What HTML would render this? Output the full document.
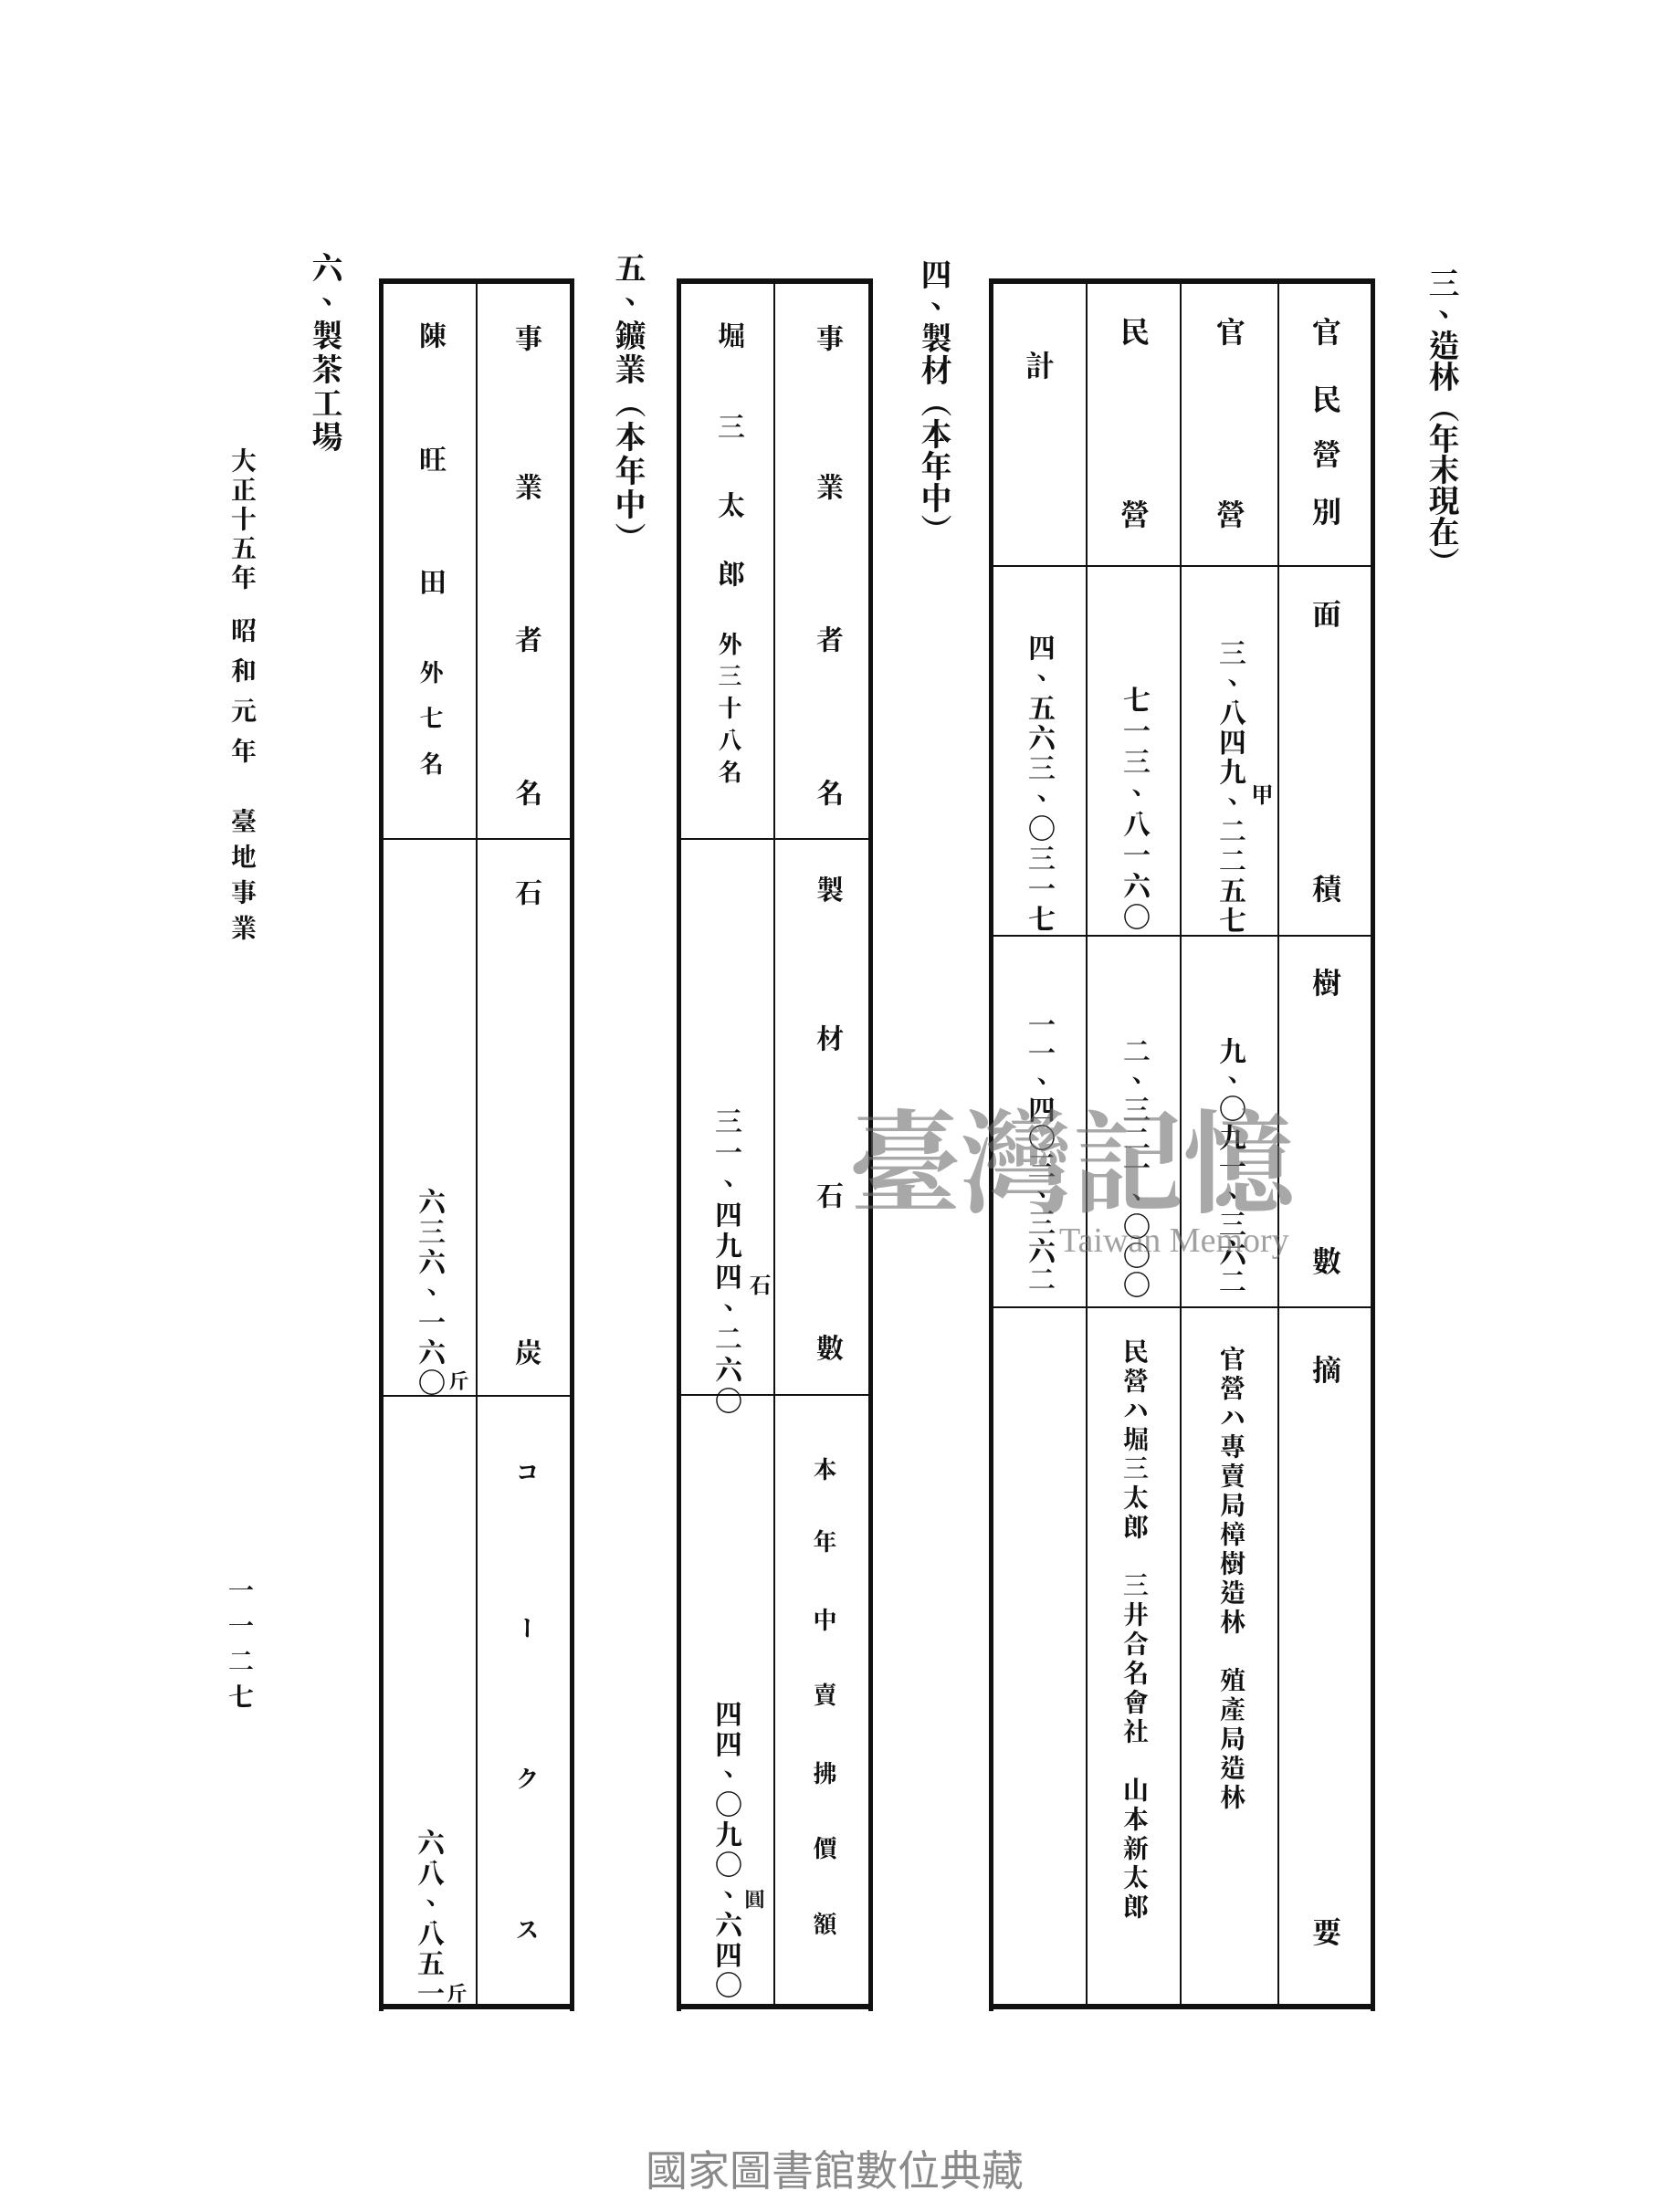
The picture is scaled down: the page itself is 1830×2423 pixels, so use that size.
<!DOCTYPE html>
<html><head><meta charset="utf-8"><style>
html,body{margin:0;padding:0;background:#fff}
#p{position:relative;width:1830px;height:2423px;overflow:hidden;background:#fff}
.v{position:absolute;writing-mode:vertical-rl;font-family:"Liberation Serif","Noto Serif CJK TC","Noto Serif CJK SC",serif;line-height:1;white-space:nowrap;color:#111;font-weight:bold}
.b{font-weight:bold}
svg{position:absolute;left:0;top:0}
</style></head><body><div id="p">
<svg width="1830" height="2423">
<g fill="#111">
<rect x="1083" y="305" width="5" height="1898"/>
<rect x="1501" y="305" width="5" height="1898"/>
<rect x="1083" y="305" width="423" height="6"/>
<rect x="1083" y="2195" width="423" height="6"/>
<rect x="1189" y="311" width="2" height="1886"/>
<rect x="1292" y="311" width="2" height="1886"/>
<rect x="1399" y="311" width="2" height="1886"/>
<rect x="1088" y="619" width="413" height="2"/>
<rect x="1088" y="1024" width="413" height="2"/>
<rect x="1088" y="1431" width="413" height="2"/>
<rect x="741" y="305" width="5" height="1898"/>
<rect x="951" y="305" width="5" height="1898"/>
<rect x="741" y="305" width="215" height="6"/>
<rect x="741" y="2195" width="215" height="6"/>
<rect x="847" y="311" width="2" height="1886"/>
<rect x="746" y="918" width="205" height="2"/>
<rect x="746" y="1527" width="205" height="2"/>
<rect x="415" y="305" width="5" height="1898"/>
<rect x="624" y="305" width="5" height="1898"/>
<rect x="415" y="305" width="214" height="6"/>
<rect x="415" y="2195" width="214" height="6"/>
<rect x="521" y="311" width="2" height="1886"/>
<rect x="420" y="918" width="204" height="2"/>
<rect x="420" y="1528" width="204" height="2"/>
</g>
</svg>

<div class="v b" style="left:1560px;top:293px;font-size:34px">三、造林（年末現在）</div>
<div class="v b" style="left:1004px;top:283px;font-size:34px;letter-spacing:1px">四、製材（本年中）</div>
<div class="v b" style="left:669px;top:276px;font-size:34px;letter-spacing:3px">五、鑛業（本年中）</div>
<div class="v b" style="left:337px;top:276px;font-size:34px;letter-spacing:3px">六、製茶工場</div>

<div class="v b" style="left:1435px;top:347px;font-size:32px">官</div>
<div class="v b" style="left:1435px;top:421px;font-size:32px">民</div>
<div class="v b" style="left:1435px;top:481px;font-size:32px">營</div>
<div class="v b" style="left:1435px;top:544px;font-size:32px">別</div>
<div class="v b" style="left:1435px;top:656px;font-size:32px">面</div>
<div class="v b" style="left:1435px;top:957px;font-size:32px">積</div>
<div class="v b" style="left:1435px;top:1060px;font-size:32px">樹</div>
<div class="v b" style="left:1435px;top:1365px;font-size:32px">數</div>
<div class="v b" style="left:1435px;top:1484px;font-size:32px">摘</div>
<div class="v b" style="left:1435px;top:2100px;font-size:32px">要</div>
<div class="v b" style="left:1330px;top:347px;font-size:32px">官</div>
<div class="v b" style="left:1330px;top:547px;font-size:32px">營</div>
<div class="v" style="left:1331px;top:700px;font-size:30px;letter-spacing:2.5px">三、八四九、二二五七</div>
<div class="v b" style="left:1367px;top:858px;font-size:24px">甲</div>
<div class="v" style="left:1331px;top:1136px;font-size:30px;letter-spacing:1.6px">九、〇九一、三六二</div>
<div class="v" style="left:1333px;top:1474px;font-size:28px;letter-spacing:4px">官營ハ專賣局樟樹造林　殖產局造林</div>
<div class="v b" style="left:1225px;top:347px;font-size:32px">民</div>
<div class="v b" style="left:1225px;top:547px;font-size:32px">營</div>
<div class="v" style="left:1226px;top:751px;font-size:30px;letter-spacing:4px">七一三、八一六〇</div>
<div class="v" style="left:1226px;top:1136px;font-size:30px;letter-spacing:2px">二、三二一、〇〇〇</div>
<div class="v" style="left:1227px;top:1466px;font-size:28px;letter-spacing:4px">民營ハ堀三太郎　三井合名會社　山本新太郎</div>
<div class="v b" style="left:1121px;top:384px;font-size:32px">計</div>
<div class="v" style="left:1122px;top:694px;font-size:30px;letter-spacing:3px">四、五六三、〇三一七</div>
<div class="v" style="left:1122px;top:1107px;font-size:30px;letter-spacing:1px">一一、四〇三、三六二</div>

<div class="v b" style="left:890px;top:355px;font-size:30px">事</div>
<div class="v b" style="left:890px;top:518px;font-size:30px">業</div>
<div class="v b" style="left:890px;top:685px;font-size:30px">者</div>
<div class="v b" style="left:890px;top:853px;font-size:30px">名</div>
<div class="v b" style="left:890px;top:959px;font-size:30px">製</div>
<div class="v b" style="left:890px;top:1122px;font-size:30px">材</div>
<div class="v b" style="left:890px;top:1294px;font-size:30px">石</div>
<div class="v b" style="left:890px;top:1461px;font-size:30px">數</div>
<div class="v b" style="left:888px;top:1596px;font-size:26px">本</div>
<div class="v b" style="left:888px;top:1675px;font-size:26px">年</div>
<div class="v b" style="left:888px;top:1761px;font-size:26px">中</div>
<div class="v b" style="left:888px;top:1843px;font-size:26px">賣</div>
<div class="v b" style="left:888px;top:1929px;font-size:26px">拂</div>
<div class="v b" style="left:888px;top:2011px;font-size:26px">價</div>
<div class="v b" style="left:888px;top:2094px;font-size:26px">額</div>
<div class="v" style="left:782px;top:352px;font-size:30px">堀</div>
<div class="v" style="left:782px;top:452px;font-size:30px">三</div>
<div class="v" style="left:782px;top:538px;font-size:30px">太</div>
<div class="v" style="left:782px;top:613px;font-size:30px">郎</div>
<div class="v" style="left:784px;top:692px;font-size:26px;letter-spacing:9px">外三十八名</div>
<div class="v" style="left:779px;top:1213px;font-size:30px;letter-spacing:4px">三一、四九四、二六〇</div>
<div class="v b" style="left:817px;top:1395px;font-size:24px">石</div>
<div class="v" style="left:779px;top:1862px;font-size:30px;letter-spacing:3px">四四、〇九〇、六四〇</div>
<div class="v b" style="left:814px;top:2069px;font-size:22px">圓</div>

<div class="v b" style="left:560px;top:355px;font-size:30px">事</div>
<div class="v b" style="left:560px;top:518px;font-size:30px">業</div>
<div class="v b" style="left:560px;top:685px;font-size:30px">者</div>
<div class="v b" style="left:560px;top:853px;font-size:30px">名</div>
<div class="v b" style="left:560px;top:962px;font-size:30px">石</div>
<div class="v b" style="left:560px;top:1466px;font-size:30px">炭</div>
<div class="v" style="left:562px;top:1599px;font-size:26px">コ</div>
<div class="v" style="left:562px;top:1770px;font-size:26px">ー</div>
<div class="v" style="left:562px;top:1935px;font-size:26px">ク</div>
<div class="v" style="left:562px;top:2100px;font-size:26px">ス</div>
<div class="v" style="left:455px;top:352px;font-size:30px">陳</div>
<div class="v" style="left:455px;top:488px;font-size:30px">旺</div>
<div class="v" style="left:455px;top:622px;font-size:30px">田</div>
<div class="v" style="left:457px;top:723px;font-size:26px;letter-spacing:24px">外七名</div>
<div class="v" style="left:454px;top:1301px;font-size:30px;letter-spacing:3px">六三六、一六〇</div>
<div class="v b" style="left:490px;top:1501px;font-size:22px">斤</div>
<div class="v" style="left:453px;top:2003px;font-size:30px;letter-spacing:3px">六八、八五一</div>
<div class="v b" style="left:488px;top:2172px;font-size:22px">斤</div>

<div class="v b" style="left:250px;top:490px;font-size:28px;letter-spacing:4px">大正十五年</div>
<div class="v b" style="left:250px;top:676px;font-size:28px;letter-spacing:16px">昭和元年</div>
<div class="v b" style="left:250px;top:885px;font-size:28px;letter-spacing:11px">臺地事業</div>
<div class="v b" style="left:247px;top:1727px;font-size:28px;letter-spacing:11px">一一二七</div>

<div style="position:absolute;left:930px;top:1205px;font-family:'Noto Serif CJK TC','Noto Serif CJK SC',serif;font-weight:bold;font-size:122px;line-height:1;color:rgba(110,110,110,0.6);white-space:nowrap">臺灣記憶</div>
<div style="position:absolute;left:1160px;top:1340px;font-family:'Liberation Serif',serif;font-size:38px;line-height:1;color:rgba(110,110,110,0.65);white-space:nowrap">Taiwan Memory</div>

<div style="position:absolute;left:707px;top:2355px;font-family:'Liberation Sans','Noto Sans CJK TC',sans-serif;font-size:46px;line-height:1;color:#8a8a8a;white-space:nowrap">國家圖書館數位典藏</div>
</div></body></html>
